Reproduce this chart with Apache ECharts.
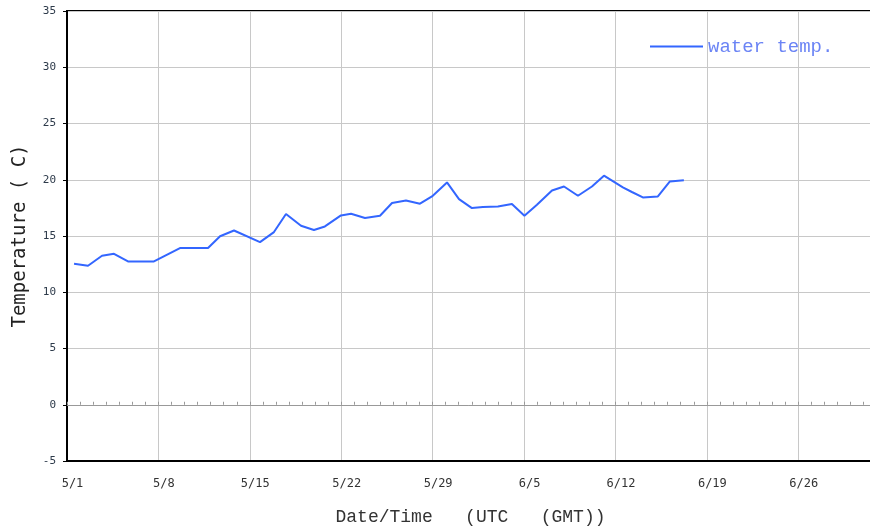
<!DOCTYPE html>
<html>
<head>
<meta charset="utf-8">
<script src="https://cdn.jsdelivr.net/npm/echarts@6/dist/echarts.min.js"></script>
<style>html,body{margin:0;padding:0;background:#fff;}#chart{width:870px;height:531px;}</style>
</head>
<body>
<div id="chart"></div>
<script>
// Days since 5/1 (UTC) for each reading
const days = [0.54, 1.61, 2.68, 3.60, 4.67, 6.66, 8.65, 10.80, 11.72, 12.79, 14.78, 15.85, 16.77, 17.92, 18.91, 19.75, 20.98, 21.75, 22.82, 23.97, 24.89, 25.96, 27.03, 27.95, 29.10, 30.02, 31.01, 31.85, 33.00, 34.07, 35.03, 35.99, 37.14, 38.06, 39.13, 40.20, 41.12, 42.57, 43.26, 44.10, 45.25, 46.17, 47.24];
// Water temperature (C)
const waterTemp = [12.53, 12.36, 13.24, 13.42, 12.74, 12.74, 13.93, 13.93, 14.98, 15.49, 14.46, 15.35, 16.95, 15.91, 15.53, 15.85, 16.83, 16.98, 16.60, 16.80, 17.93, 18.16, 17.87, 18.52, 19.76, 18.28, 17.48, 17.57, 17.63, 17.84, 16.80, 17.78, 19.05, 19.40, 18.58, 19.40, 20.36, 19.32, 18.91, 18.43, 18.52, 19.85, 19.96];
const xTickLabels = ['5/1', '5/8', '5/15', '5/22', '5/29', '6/5', '6/12', '6/19', '6/26'];
const seriesName = 'water temp.';
const XMAX = 61.8;

const chart = echarts.init(document.getElementById('chart'), null, {renderer: 'canvas'});
const option = {
  animation: false,
  backgroundColor: '#fff',
  grid: {left: 67, top: 11, right: -4, bottom: 70, outerBoundsMode: 'none', containLabel: false, show: true, borderColor: '#000', borderWidth: 2, backgroundColor: 'transparent'},
  legend: {
    data: [{name: seriesName, icon: 'rect'}],
    left: 645, top: 32,
    itemWidth: 53, itemHeight: 2,
    textStyle: {color: '#6b84f5', fontFamily: 'Liberation Mono', fontSize: 19}
  },
  xAxis: [{
    type: 'value', min: 0, max: XMAX, interval: 7, position: 'bottom',
    axisLine: {onZero: false, lineStyle: {color: '#000', width: 2}},
    axisTick: {show: false},
    axisLabel: {
      color: '#333', fontFamily: 'DejaVu Sans Mono', fontSize: 12, margin: 17,
      padding: [0, 0, 0, 11], showMaxLabel: false,
      formatter: function (v) { return (v % 7 === 0 && xTickLabels[v / 7]) || ''; }
    },
    splitLine: {show: true, lineStyle: {color: '#c8c8c8', width: 1}},
    name: 'Date/Time   (UTC   (GMT))', nameLocation: 'middle', nameGap: 47,
    nameTextStyle: {color: '#333', fontFamily: 'Liberation Mono', fontSize: 18}
  }, {
    type: 'value', min: 0, max: XMAX, interval: 7, position: 'top',
    axisLine: {onZero: true, lineStyle: {color: '#999', width: 1}},
    axisTick: {show: true, inside: false, length: 3, lineStyle: {color: '#999'}},
    minorTick: {show: true, splitNumber: 7, length: 3, lineStyle: {color: '#999'}},
    axisLabel: {show: false},
    splitLine: {show: false}
  }],
  yAxis: {
    type: 'value', min: -5, max: 35, interval: 5,
    axisLine: {show: true, onZero: false, lineStyle: {color: '#000', width: 2}},
    axisTick: {show: true, length: 4, lineStyle: {color: '#000'}},
    axisLabel: {color: '#2d3a4a', fontFamily: 'DejaVu Sans Mono', fontSize: 11, margin: 11},
    splitLine: {show: true, lineStyle: {color: '#c8c8c8', width: 1}},
    name: 'Temperature ( C)', nameLocation: 'middle', nameGap: 37,
    nameTextStyle: {color: '#222', fontFamily: 'DejaVu Sans Mono', fontSize: 19}
  },
  series: [{
    name: seriesName, type: 'line', xAxisIndex: 0,
    data: days.map((d, i) => [d, waterTemp[i]]),
    symbol: 'none', smooth: false,
    lineStyle: {color: '#3366ff', width: 2},
    itemStyle: {color: '#3366ff'}
  }]
};
chart.setOption(option);
</script>
</body>
</html>
